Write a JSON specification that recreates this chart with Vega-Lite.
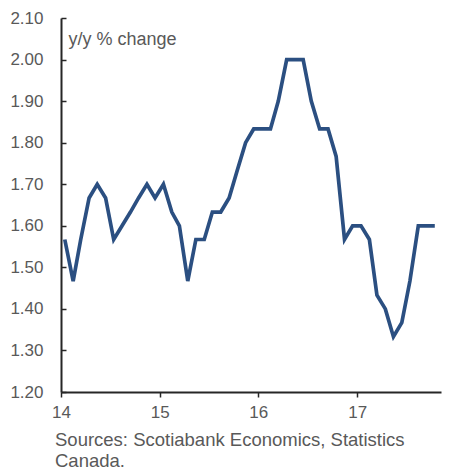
{
  "$schema": "https://vega.github.io/schema/vega-lite/v6.json",
  "autosize": "none",
  "width": 380,
  "height": 374,
  "padding": {"left": 61, "top": 18, "right": 10, "bottom": 76},
  "background": "white",
  "config": {
    "view": {"stroke": null},
    "font": "Liberation Sans",
    "axis": {
      "grid": false,
      "domainColor": "#262626",
      "domainWidth": 2,
      "tickColor": "#262626",
      "tickWidth": 1.5,
      "labelColor": "#595959",
      "labelFont": "Liberation Sans",
      "labelFontSize": 17,
      "titleFont": "Liberation Sans"
    }
  },
  "title": {
    "text": ["Sources: Scotiabank Economics, Statistics", "Canada."],
    "orient": "bottom",
    "anchor": "start",
    "frame": "group",
    "dx": -6,
    "offset": 11,
    "font": "Liberation Sans",
    "fontSize": 18.5,
    "fontWeight": "normal",
    "color": "#595959",
    "lineHeight": 21
  },
  "data": {
    "values": [
      {"date": "2014-01-15", "value": 1.567},
      {"date": "2014-02-15", "value": 1.467},
      {"date": "2014-03-15", "value": 1.567},
      {"date": "2014-04-15", "value": 1.667},
      {"date": "2014-05-15", "value": 1.700},
      {"date": "2014-06-15", "value": 1.667},
      {"date": "2014-07-15", "value": 1.567},
      {"date": "2014-08-15", "value": 1.600},
      {"date": "2014-09-15", "value": 1.633},
      {"date": "2014-10-15", "value": 1.667},
      {"date": "2014-11-15", "value": 1.700},
      {"date": "2014-12-15", "value": 1.667},
      {"date": "2015-01-15", "value": 1.700},
      {"date": "2015-02-15", "value": 1.633},
      {"date": "2015-03-15", "value": 1.600},
      {"date": "2015-04-15", "value": 1.467},
      {"date": "2015-05-15", "value": 1.567},
      {"date": "2015-06-15", "value": 1.567},
      {"date": "2015-07-15", "value": 1.633},
      {"date": "2015-08-15", "value": 1.633},
      {"date": "2015-09-15", "value": 1.667},
      {"date": "2015-10-15", "value": 1.733},
      {"date": "2015-11-15", "value": 1.800},
      {"date": "2015-12-15", "value": 1.833},
      {"date": "2016-01-15", "value": 1.833},
      {"date": "2016-02-15", "value": 1.833},
      {"date": "2016-03-15", "value": 1.900},
      {"date": "2016-04-15", "value": 2.000},
      {"date": "2016-05-15", "value": 2.000},
      {"date": "2016-06-15", "value": 2.000},
      {"date": "2016-07-15", "value": 1.900},
      {"date": "2016-08-15", "value": 1.833},
      {"date": "2016-09-15", "value": 1.833},
      {"date": "2016-10-15", "value": 1.767},
      {"date": "2016-11-15", "value": 1.567},
      {"date": "2016-12-15", "value": 1.600},
      {"date": "2017-01-15", "value": 1.600},
      {"date": "2017-02-15", "value": 1.567},
      {"date": "2017-03-15", "value": 1.433},
      {"date": "2017-04-15", "value": 1.400},
      {"date": "2017-05-15", "value": 1.333},
      {"date": "2017-06-15", "value": 1.367},
      {"date": "2017-07-15", "value": 1.467},
      {"date": "2017-08-15", "value": 1.600},
      {"date": "2017-09-15", "value": 1.600},
      {"date": "2017-10-15", "value": 1.600}
    ]
  },
  "mark": {"type": "line", "color": "#2b4f81", "strokeWidth": 3.7, "strokeJoin": "miter", "clip": false},
  "encoding": {
    "x": {
      "field": "date",
      "type": "temporal",
      "scale": {"domain": ["2014-01-01", "2017-11-07"], "nice": false},
      "axis": {
        "title": null,
        "format": "%y",
        "tickCount": {"interval": "year", "step": 1},
        "tickSize": 5,
        "labelPadding": 7,
        "labelAlign": "center",
        "labelOverlap": false
      }
    },
    "y": {
      "field": "value",
      "type": "quantitative",
      "scale": {"domain": [1.2, 2.1], "nice": false, "zero": false},
      "axis": {
        "values": [1.2, 1.3, 1.4, 1.5, 1.6, 1.7, 1.8, 1.9, 2.0, 2.1],
        "format": ".2f",
        "tickSize": -5,
        "labelPadding": 23,
        "title": "y/y % change",
        "titleAngle": 0,
        "titleAlign": "left",
        "titleBaseline": "middle",
        "titleX": 7,
        "titleY": 21,
        "titleFontSize": 18,
        "titleFontWeight": "normal",
        "titleColor": "#595959"
      }
    }
  }
}
